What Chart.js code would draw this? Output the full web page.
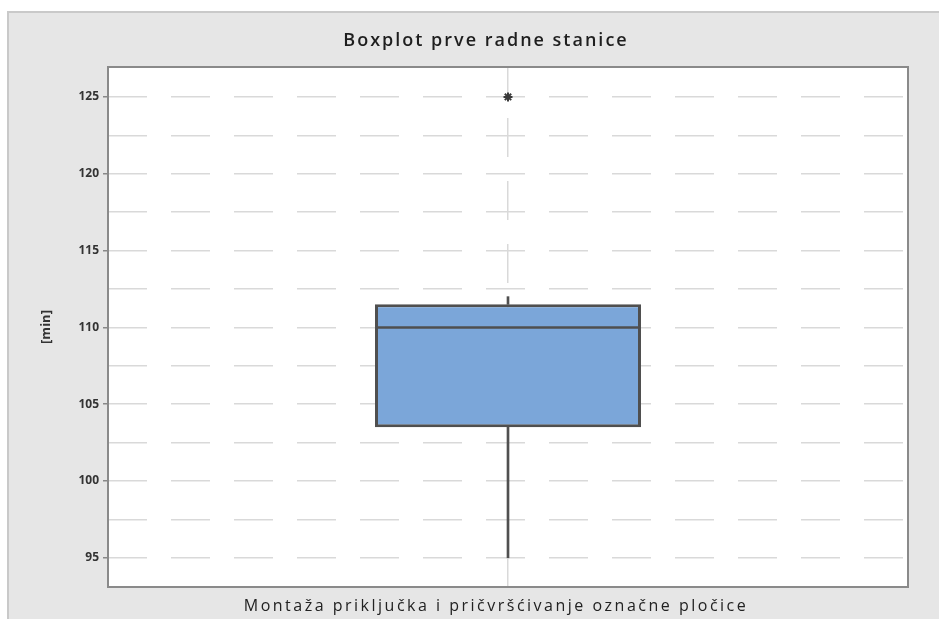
<!DOCTYPE html>
<html>
<head>
<meta charset="utf-8">
<style>
  html, body { margin: 0; padding: 0; background: #ffffff; }
  #wrap { width: 939px; height: 619px; }
</style>
<script src="https://cdn.jsdelivr.net/npm/chart.js@4.4.0/dist/chart.umd.min.js"></script>
</head>
<body>
<div id="wrap"><canvas id="c" width="939" height="619"></canvas></div>
<script>
const chartTitle = 'Boxplot prve radne stanice';
const yAxisTitle = '[min]';
const categories = ['Montaža priključka i pričvršćivanje označne pločice'];
const whiskerLow = [95];
const q1 = [103.5];
const median = [110];
const q3 = [111.5];
const whiskerHigh = [112];
const outliers = [125];
const yTickValues = [95, 97.5, 100, 102.5, 105, 107.5, 110, 112.5, 115, 117.5, 120, 122.5, 125];
const yLabelValues = [95, 100, 105, 110, 115, 120, 125];

const FONT = "'Open Sans', 'DejaVu Sans', sans-serif";
const BOX_DATASET = 2;

const decorPlugin = {
  id: 'decor',
  beforeDraw(chart) {
    const ctx = chart.ctx;
    const a = chart.chartArea;
    ctx.save();
    ctx.fillStyle = '#ffffff';
    ctx.fillRect(0, 0, chart.width, chart.height);
    ctx.fillStyle = '#e6e6e6';
    ctx.fillRect(8, 12, chart.width - 8, chart.height - 12);
    ctx.strokeStyle = '#c9c9c9';
    ctx.lineWidth = 2;
    ctx.beginPath();
    ctx.moveTo(8, chart.height);
    ctx.lineTo(8, 12);
    ctx.lineTo(chart.width, 12);
    ctx.stroke();
    ctx.fillStyle = '#ffffff';
    ctx.fillRect(a.left, a.top, a.right - a.left, a.bottom - a.top);
    ctx.restore();
  },
  afterDatasetsDraw(chart) {
    // median line across each box, positioned through the y scale
    const ctx = chart.ctx;
    const ys = chart.scales.y;
    const meta = chart.getDatasetMeta(BOX_DATASET);
    ctx.save();
    ctx.strokeStyle = '#4f4f4f';
    ctx.lineWidth = 2.5;
    meta.data.forEach((bar, i) => {
      const y = ys.getPixelForValue(median[i]);
      ctx.beginPath();
      ctx.moveTo(bar.x - bar.width / 2 + 1, y);
      ctx.lineTo(bar.x + bar.width / 2 - 1, y);
      ctx.stroke();
    });
    ctx.restore();
  },
  afterDraw(chart) {
    const ctx = chart.ctx;
    const a = chart.chartArea;
    ctx.save();
    ctx.strokeStyle = '#8a8a8a';
    ctx.lineWidth = 2;
    ctx.strokeRect(a.left, a.top, a.right - a.left, a.bottom - a.top);
    // title
    ctx.fillStyle = '#1e1e1e';
    ctx.font = '600 18px ' + FONT;
    ctx.textAlign = 'center';
    ctx.textBaseline = 'middle';
    ctx.letterSpacing = '2px';
    ctx.fillText(chartTitle, 486, 41);
    // category labels under the x axis
    const xs = chart.scales.x;
    ctx.font = '16px ' + FONT;
    ctx.fillStyle = '#222222';
    ctx.letterSpacing = '2.5px';
    categories.forEach((c, i) => {
      ctx.fillText(c, xs.getPixelForValue(i) - 12, a.bottom + 19);
    });
    ctx.restore();
  }
};

const barCommon = {
  type: 'bar',
  grouped: false,
  categoryPercentage: 1.0,
  borderSkipped: false
};

new Chart(document.getElementById('c'), {
  type: 'bar',
  data: {
    labels: categories,
    datasets: [
      Object.assign({}, barCommon, {
        label: 'lower whisker',
        data: categories.map((c, i) => [whiskerLow[i], q1[i]]),
        barThickness: 2,
        backgroundColor: '#505050',
        borderWidth: 0,
        order: 5
      }),
      Object.assign({}, barCommon, {
        label: 'upper whisker',
        data: categories.map((c, i) => [q3[i], whiskerHigh[i]]),
        barThickness: 2,
        backgroundColor: '#505050',
        borderWidth: 0,
        order: 5
      }),
      Object.assign({}, barCommon, {
        label: 'box',
        data: categories.map((c, i) => [q1[i], q3[i]]),
        barPercentage: 0.3325,
        backgroundColor: '#7ba6d9',
        borderColor: '#4f4f4f',
        borderWidth: 3,
        order: 3
      }),
      {
        type: 'line',
        label: 'outlier',
        data: outliers,
        showLine: false,
        pointStyle: 'star',
        pointRadius: 4.5,
        pointBorderWidth: 2,
        pointBorderColor: '#3a3a3a',
        pointBackgroundColor: '#3a3a3a',
        order: 1
      }
    ]
  },
  options: {
    responsive: false,
    animation: false,
    layout: { padding: { left: 8, right: 31, top: 67, bottom: 0 } },
    plugins: {
      legend: { display: false },
      title: { display: false },
      tooltip: { enabled: false }
    },
    scales: {
      x: {
        offset: true,
        grid: {
          offset: false,
          drawTicks: false,
          color: '#d9d9d9',
          lineWidth: 1.5
        },
        border: { display: false, dash: [39, 24], dashOffset: 12 },
        ticks: { display: false },
        afterFit(scale) { scale.height = 32; }
      },
      y: {
        min: 93.1,
        max: 126.95,
        border: { display: false, dash: [39, 24] },
        afterBuildTicks(scale) {
          scale.ticks = yTickValues.map(v => ({ value: v }));
        },
        grid: {
          color: '#d9d9d9',
          lineWidth: 1.5,
          tickLength: 5,
          tickColor: (ctx) => (ctx.tick && yLabelValues.includes(ctx.tick.value)) ? '#888888' : 'rgba(0,0,0,0)'
        },
        ticks: {
          padding: 4,
          color: '#333333',
          font: { family: FONT, size: 12, weight: 'bold' },
          callback: (v) => yLabelValues.includes(v) ? String(v) : ''
        },
        title: {
          display: true,
          text: yAxisTitle,
          color: '#333333',
          font: { family: FONT, size: 13, weight: 'bold' },
          padding: { top: 30, bottom: 0 }
        },
        afterFit(scale) { scale.width = 100; }
      }
    }
  },
  plugins: [decorPlugin]
});
</script>
</body>
</html>
